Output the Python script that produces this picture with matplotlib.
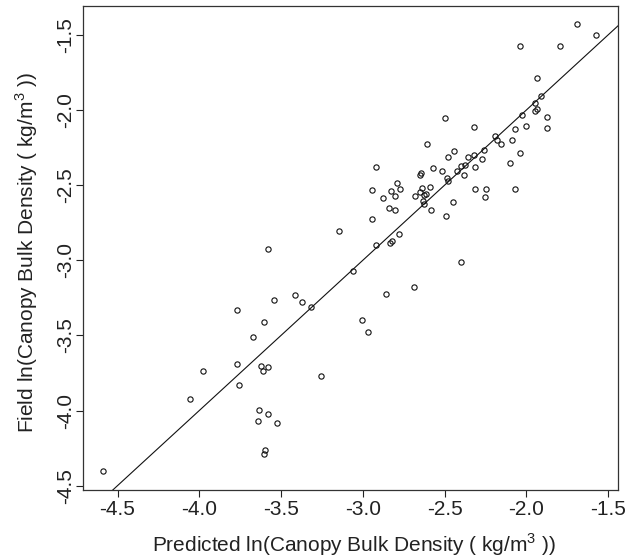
import matplotlib
matplotlib.use('Agg')
import matplotlib.pyplot as plt

plt.rcParams['font.family'] = ['Liberation Sans', 'DejaVu Sans']
plt.rcParams['mathtext.fontset'] = 'custom'
plt.rcParams['mathtext.rm'] = 'Liberation Sans'

# predicted vs field ln(canopy bulk density)
predicted = [
    -1.690, -1.571, -2.040, -1.791, -1.932, -1.910, -1.948, -1.936, -1.948, -1.875,
    -1.875, -2.028, -2.003, -2.070, -2.500, -2.321, -2.193, -2.182, -2.157, -2.090,
    -2.040, -2.101, -2.072, -2.608, -2.445, -2.479, -2.260, -2.320, -2.355, -2.269,
    -2.373, -2.400, -2.422, -2.315, -2.382, -2.918, -2.568, -2.518, -2.644, -2.648,
    -2.485, -2.480, -2.793, -2.591, -2.637, -2.771, -2.946, -2.828, -2.653, -2.614,
    -2.800, -2.628, -2.682, -2.879, -2.315, -2.248, -2.252, -2.631, -2.625, -2.450,
    -2.839, -2.805, -2.585, -2.490, -2.946, -2.781, -2.822, -2.833, -2.918, -2.399,
    -3.059, -2.855, -2.686, -3.007, -2.967, -3.578, -3.148, -4.589, -3.415, -3.370,
    -3.319, -3.545, -3.771, -3.603, -3.674, -3.771, -3.625, -3.582, -3.609, -3.979,
    -3.757, -4.059, -3.256, -3.635, -3.582, -3.641, -3.527, -3.600, -3.606,
]
field = [
    -1.429, -1.502, -1.575, -1.575, -1.784, -1.908, -1.951, -1.993, -2.006, -2.048,
    -2.117, -2.031, -2.104, -2.124, -2.055, -2.111, -2.170, -2.202, -2.228, -2.197,
    -2.284, -2.350, -2.527, -2.226, -2.270, -2.312, -2.266, -2.301, -2.314, -2.327,
    -2.368, -2.374, -2.404, -2.382, -2.430, -2.380, -2.385, -2.405, -2.417, -2.429,
    -2.454, -2.471, -2.484, -2.510, -2.517, -2.522, -2.529, -2.541, -2.547, -2.557,
    -2.571, -2.567, -2.571, -2.583, -2.523, -2.523, -2.577, -2.602, -2.627, -2.614,
    -2.652, -2.664, -2.663, -2.706, -2.723, -2.823, -2.874, -2.885, -2.901, -3.008,
    -3.071, -3.224, -3.180, -3.395, -3.479, -2.923, -2.805, -4.403, -3.229, -3.278,
    -3.309, -3.266, -3.333, -3.413, -3.511, -3.690, -3.704, -3.708, -3.739, -3.739,
    -3.832, -3.923, -3.770, -3.997, -4.023, -4.072, -4.083, -4.263, -4.288,
]
ticks = [-4.5, -4.0, -3.5, -3.0, -2.5, -2.0, -1.5]
tick_labels = ['-4.5', '-4.0', '-3.5', '-3.0', '-2.5', '-2.0', '-1.5']

fig = plt.figure(figsize=(6.37, 5.59), dpi=100)
ax = fig.add_axes([0.1303, 0.1234, 0.8399, 0.8659])

ax.plot(predicted, field, 'o', mfc='none', mec='#111111', ms=3.8, mew=0.8)
ax.axline((-3.0, -3.0), slope=1, color='#111111', lw=0.8)

ax.set_xlim(-4.711, -1.439)
ax.set_ylim(-4.529, -1.307)
ax.set_xticks(ticks)
ax.set_xticklabels(tick_labels)
ax.set_yticks(ticks)
ax.set_yticklabels(tick_labels, rotation=90, va='center')

ax.tick_params(direction='out', length=5, width=0.8, labelsize=15, colors='#222222')
ax.tick_params(axis='x', pad=2.5)
ax.tick_params(axis='y', pad=1)
for s in ax.spines.values():
    s.set_linewidth(0.9)
    s.set_color('#333333')

ax.set_xlabel(r'Predicted ln(Canopy Bulk Density ( kg/m$^{\mathrm{3}}$ ))', fontsize=15, color='#222222')
ax.set_ylabel(r'Field ln(Canopy Bulk Density ( kg/m$^{\mathrm{3}}$ ))', fontsize=15, color='#222222')
ax.xaxis.set_label_coords(0.507, -0.085)
ax.yaxis.set_label_coords(-0.081, 0.49)

fig.savefig('out.png', dpi=100)
